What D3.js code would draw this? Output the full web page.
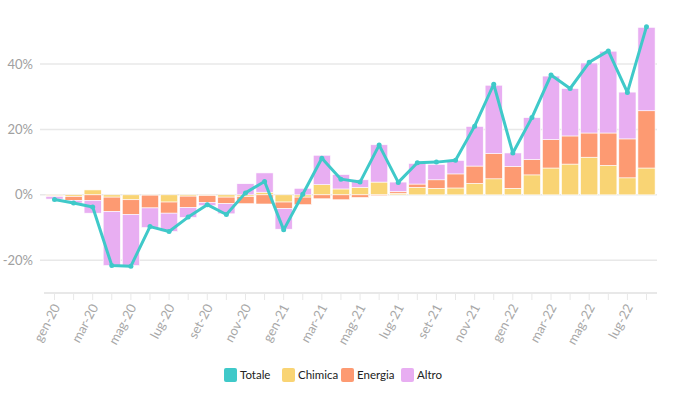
<!DOCTYPE html>
<html>
<head>
    <script src="https://d3js.org/d3.v7.min.js"></script>
    <style>
        body {
            margin: 0;
            background: #fff;
            font-family: Lato, "Open Sans", sans-serif;
        }
        .grid line { stroke: #e8e8e8; stroke-width: 1.5; }
        .ylab { font-size: 13px; fill: #a0a0a0; }
        .xlab { font-size: 13px; fill: #a8a8a8; }
        .legend text { font-size: 11.5px; fill: #222; }
    </style>
</head>
<body>
    <div id="chart"></div>
    <script>
        const months = ["gen-20","feb-20","mar-20","apr-20","mag-20","giu-20","lug-20","ago-20","set-20","ott-20","nov-20","dic-20",
                        "gen-21","feb-21","mar-21","apr-21","mag-21","giu-21","lug-21","ago-21","set-21","ott-21","nov-21","dic-21",
                        "gen-22","feb-22","mar-22","apr-22","mag-22","giu-22","lug-22","ago-22"];

        const chimica = [-0.3,-0.5,1.5,-0.7,-1.5,-0.1,-2.2,-0.4,-0.2,-0.7,-0.5,0.8,
                         -2.2,-0.7,3.1,1.8,2.3,3.9,0.5,2.3,2.0,2.1,3.5,4.9,
                         2.0,6.1,8.2,9.4,11.5,9.0,5.2,8.2];
        const energia = [-0.2,-1.2,-1.7,-4.4,-4.5,-3.9,-3.4,-3.5,-2.1,-2.0,-2.2,-2.8,
                         -2.0,-2.3,-1.2,-1.5,-0.8,-0.3,0.5,1.0,2.6,4.3,5.3,7.7,
                         6.7,4.7,8.7,8.6,7.4,9.9,11.9,17.5];
        const altro = [-0.8,-0.8,-3.9,-16.5,-15.6,-6.0,-5.6,-3.0,-1.0,-3.1,3.4,5.9,
                       -6.3,2.0,9.0,4.4,2.3,11.4,2.9,6.3,4.7,4.1,12.1,20.9,
                       4.1,12.8,19.4,14.5,21.4,25.0,14.3,25.5];
        const totale = [-1.4,-2.5,-3.7,-21.6,-21.8,-9.7,-11.2,-6.8,-3.0,-6.0,0.6,4.1,
                        -10.7,0.2,11.2,4.8,3.9,15.2,3.8,9.8,10.0,10.6,21.0,33.8,
                        12.8,23.6,36.6,32.5,40.5,44.0,31.3,51.4];

        const yTicks = [-20, 0, 20, 40];
        const seriesNames = ["Chimica", "Energia", "Altro"];
        const colors = {Totale: "#3fc9c9", Chimica: "#f9d474", Energia: "#fd9a72", Altro: "#e8aef2"};

        const width = 679, height = 398;
        const svg = d3.select("#chart").append("svg")
            .attr("width", width)
            .attr("height", height);

        const x = d3.scaleBand()
            .domain(months)
            .range([44, 657])
            .padding(0.1);

        const y = d3.scaleLinear()
            .domain([-30, 52])
            .range([293, 24.7]);

        // gridlines
        const grid = svg.append("g").attr("class", "grid");
        grid.selectAll("line")
            .data(yTicks)
            .enter()
            .append("line")
            .attr("x1", 40)
            .attr("x2", 657)
            .attr("y1", d => y(d))
            .attr("y2", d => y(d));

        svg.selectAll(".ylab")
            .data(yTicks)
            .enter()
            .append("text")
            .attr("class", "ylab")
            .attr("x", 33)
            .attr("y", d => y(d))
            .attr("dy", "0.35em")
            .attr("text-anchor", "end")
            .text(d => d + "%");

        // stacked bars
        const rows = months.map((m, i) => ({
            month: m,
            Chimica: chimica[i],
            Energia: energia[i],
            Altro: altro[i]
        }));

        const stack = d3.stack()
            .keys(seriesNames)
            .offset(d3.stackOffsetDiverging);

        const layers = stack(rows);

        svg.append("g")
            .selectAll("g")
            .data(layers)
            .enter()
            .append("g")
            .attr("fill", d => colors[d.key])
            .selectAll("rect")
            .data(d => d)
            .enter()
            .append("rect")
            .attr("x", d => x(d.data.month))
            .attr("width", x.bandwidth())
            .attr("y", d => y(Math.max(d[0], d[1])))
            .attr("height", d => Math.abs(y(d[0]) - y(d[1])))
            .attr("stroke", "#fff")
            .attr("stroke-width", 0.6);

        // x axis
        const xAxis = svg.append("g");
        xAxis.append("line")
            .attr("x1", 44)
            .attr("x2", 657)
            .attr("y1", 293)
            .attr("y2", 293)
            .attr("stroke", "#e8e8e8")
            .attr("stroke-width", 2);

        xAxis.selectAll(".tick")
            .data(months)
            .enter()
            .append("line")
            .attr("x1", d => x(d) + x.bandwidth() / 2)
            .attr("x2", d => x(d) + x.bandwidth() / 2)
            .attr("y1", 293)
            .attr("y2", 300)
            .attr("stroke", "#e8e8e8")
            .attr("stroke-width", 1);

        xAxis.selectAll(".xlab")
            .data(months.filter((m, i) => i % 2 === 0))
            .enter()
            .append("text")
            .attr("class", "xlab")
            .attr("text-anchor", "end")
            .attr("transform", d => `translate(${x(d) + x.bandwidth() / 2 + 6},${307}) rotate(-62)`)
            .text(d => d);

        // totale line
        const line = d3.line()
            .x((d, i) => x(months[i]) + x.bandwidth() / 2)
            .y(d => y(d));

        svg.append("path")
            .datum(totale)
            .attr("fill", "none")
            .attr("stroke", colors.Totale)
            .attr("stroke-width", 3)
            .attr("stroke-linejoin", "round")
            .attr("d", line);

        svg.selectAll(".dot")
            .data(totale)
            .enter()
            .append("circle")
            .attr("cx", (d, i) => x(months[i]) + x.bandwidth() / 2)
            .attr("cy", d => y(d))
            .attr("r", 2.5)
            .attr("fill", colors.Totale);

        // legend
        const legendItems = [
            {name: "Totale", x: 224},
            {name: "Chimica", x: 282},
            {name: "Energia", x: 341},
            {name: "Altro", x: 401}
        ];

        const legend = svg.append("g").attr("class", "legend");
        const item = legend.selectAll("g")
            .data(legendItems)
            .enter()
            .append("g")
            .attr("transform", d => `translate(${d.x},368)`);

        item.append("rect")
            .attr("width", 13)
            .attr("height", 14)
            .attr("rx", 2)
            .attr("fill", d => colors[d.name]);

        item.append("text")
            .attr("x", 16)
            .attr("y", 7)
            .attr("dy", "0.35em")
            .text(d => d.name);
    </script>
</body>
</html>
